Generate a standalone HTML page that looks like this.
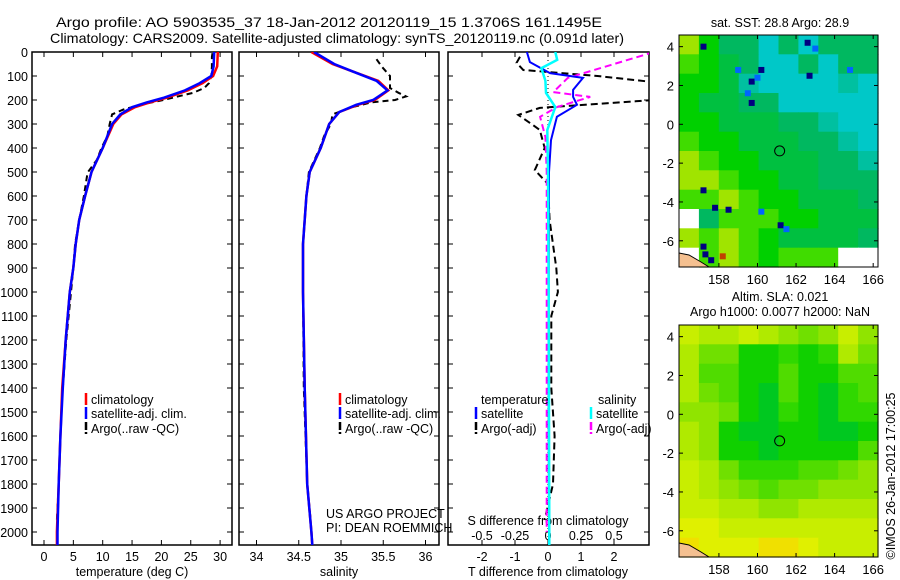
<!DOCTYPE html>
<html><head><meta charset="utf-8">
<style>
html,body{margin:0;padding:0;background:#fff;}
svg{display:block;font-family:"Liberation Sans",sans-serif;}
text{font-size:12.5px;fill:#000;}
</style></head>
<body>
<svg id="chart" width="900" height="580" viewBox="0 0 900 580">
<defs>
<clipPath id="c1"><rect x="32" y="52" width="200" height="493"/></clipPath>
<clipPath id="c2"><rect x="239" y="52" width="200" height="493"/></clipPath>
<clipPath id="c3"><rect x="448" y="52" width="201" height="493"/></clipPath>
</defs>
<text x="56" y="27" style="font-size:14px" textLength="546" lengthAdjust="spacingAndGlyphs">Argo profile: AO 5903535_37 18-Jan-2012 20120119_15 1.3706S 161.1495E</text>
<text x="50" y="43" style="font-size:14px" textLength="574" lengthAdjust="spacingAndGlyphs">Climatology: CARS2009. Satellite-adjusted climatology: synTS_20120119.nc (0.091d later)</text>
<g id="g"></g>
</svg>
<script>
// ---------- data ----------
const climDepth = [0,60,100,130,160,190,210,230,260,300,400,500,600,700,800,900,1000,1200,1400,1600,1800,2000,2055];
const climTemp  = [29.6,29.5,28.8,27,24.5,21,18,15.5,13.2,11.8,10,8.1,7,6,5.4,5,4.4,3.7,3.1,2.8,2.5,2.2,2.2];
const satTemp   = [29.0,28.9,28.5,26.5,24,20.5,17.5,15,13,11.6,10,8.1,7,6,5.4,5,4.4,3.7,3.2,2.8,2.5,2.3,2.3];
const argoDepth = [5,20,60,100,130,150,170,200,220,240,260,300,350,400,450,500,520,600,700,800,900,1000,1200,1400,1600,1800,1950];
const argoTemp  = [28.7,28.6,28.6,28.5,28.1,27.3,25.4,20.3,16.4,13.5,11.6,11.2,10.8,9.8,9,7.5,7.3,6.8,6,5.3,5,4.6,3.8,3.2,2.8,2.5,2.2];
const salDepth  = [0,50,80,120,160,200,220,250,300,400,500,600,800,1000,1400,1800,2000,2055];
const climSal   = [34.65,34.9,35.13,35.44,35.56,35.4,35.2,34.98,34.86,34.76,34.63,34.59,34.55,34.55,34.57,34.6,34.65,34.66];
const satSal    = [34.68,34.92,35.13,35.42,35.55,35.38,35.18,34.98,34.86,34.76,34.63,34.59,34.55,34.55,34.57,34.6,34.65,34.66];
const argoSalDepth = [30,60,100,150,170,185,200,210,230,260,300,350,400,500,600,800,1000,1400,1800,1950];
const argoSal   = [35.42,35.48,35.58,35.58,35.68,35.77,35.64,35.36,35.13,34.9,34.88,34.8,34.75,34.62,34.59,34.55,34.55,34.56,34.6,34.64];
const dDepthT   = [0,42,88,108,158,187,220,270,367,500,1000,1500,2000,2055];
const satTDiff  = [-0.64,-0.55,0.06,1.06,0.76,0.76,0.88,0.27,0.09,0.03,0.02,0.02,0.03,0.03];
const dDepthS   = [0,33,67,120,171,229,325,500,1000,2000,2055];
const satSDiff  = [0.055,0.07,-0.05,-0.02,-0.015,0.055,-0.005,0.0,0.005,0.01,0.01];
const argoSDepth= [0,12,108,167,187,229,270,354,500,1000,1500,2000];
const argoSDiff = [0.8,0.73,0.15,0.04,0.32,0.07,-0.06,-0.02,-0.01,-0.01,-0.01,-0.01];
const argoTDepth= [20,45,75,100,130,160,190,200,233,262,300,325,400,492,550,700,900,1000,1100,1400,1600,1800,1950];
const argoTDiff = [-0.85,-0.95,-0.75,1.5,3.5,6,6,3.2,-0.25,-0.9,-0.5,-0.25,-0.1,-0.4,0,0.05,0.25,0.3,0.1,0.1,0.2,0.15,-0.1];
const depthTicks = [0,100,200,300,400,500,600,700,800,900,1000,1100,1200,1300,1400,1500,1600,1700,1800,1900,2000];
const tempTicks = [0,5,10,15,20,25,30];
const salTicks = [34,34.5,35,35.5,36];
const tdTicks = [-2,-1,0,1,2];
const sdTicks = [-0.5,-0.25,0,0.25,0.5];
const sdLabels = ["-0.5","-0.25","0","0.25","0.5"];
const lonTicks = [158,160,162,164,166];
const latTicks = [4,2,0,-2,-4,-6];
// SST grid (deg C), rows north->south (1 deg), cols west->east; null = missing
const sstGrid = [
[28.45,28.7,28.85,28.85,29.0,28.85,29.0,28.85,28.85,28.85],
[28.55,28.7,28.8,28.9,29.05,29.0,28.9,29.0,28.9,28.85],
[28.7,28.7,28.8,28.95,29.1,29.1,29.0,29.0,28.95,29.0],
[28.7,28.75,28.8,28.85,28.9,29.0,29.0,29.0,29.0,29.05],
[28.65,28.7,28.75,28.8,28.8,28.85,28.9,28.95,29.0,29.0],
[28.6,28.65,28.7,28.75,28.8,28.8,28.85,28.9,28.95,29.0],
[28.5,28.55,28.65,28.7,28.75,28.8,28.8,28.85,28.9,28.95],
[28.45,28.45,28.55,28.65,28.7,28.75,28.8,28.85,28.85,28.9],
[28.6,28.55,28.5,28.6,28.65,28.7,28.75,28.8,28.8,28.85],
[null,28.85,28.6,28.55,28.6,28.7,28.7,28.75,28.8,28.8],
[28.45,28.6,28.5,28.55,28.7,28.75,28.75,28.75,28.8,28.85],
[null,28.6,28.5,28.6,28.65,28.6,28.55,28.55,null,null]];
const sstSpotLon = [157.2,160.2,159.7,159.0,159.7,162.6,163.0,162.7,164.8,157.2,157.8,158.5,160.2,161.2,161.5,157.2,159.5,160.0,158.2,157.3,157.6];
const sstSpotLat = [4.0,2.8,2.2,2.8,1.1,4.2,3.9,2.5,2.8,-3.4,-4.3,-4.4,-4.5,-5.2,-5.4,-6.3,1.6,2.4,-6.8,-6.7,-7.0];
const sstSpotVal = [29.5,29.5,29.5,29.3,29.5,29.5,29.3,29.5,29.3,29.5,29.5,29.5,29.3,29.5,29.3,29.5,29.3,29.3,27.9,29.5,29.5];
const slaGrid = [
[0.09,0.08,0.08,0.09,0.08,0.07,0.06,0.07,0.09,0.07],
[0.08,0.06,0.06,0.03,0.03,0.04,0.03,0.04,0.08,0.06],
[0.08,0.05,0.05,0.03,0.03,0.05,0.03,0.03,0.05,0.05],
[0.08,0.06,0.05,0.03,0.02,0.05,0.03,0.02,0.04,0.05],
[0.07,0.07,0.06,0.03,0.02,0.04,0.03,0.02,0.04,0.04],
[0.08,0.07,0.03,0.02,0.02,0.03,0.03,0.02,0.02,0.03],
[0.08,0.07,0.03,0.03,0.02,0.03,0.03,0.03,0.03,0.05],
[0.09,0.08,0.06,0.04,0.04,0.04,0.05,0.05,0.06,0.07],
[0.09,0.08,0.07,0.06,0.05,0.06,0.06,0.07,0.07,0.07],
[0.09,0.09,0.08,0.08,0.07,0.07,0.08,0.08,0.08,0.08],
[0.10,0.10,0.09,0.09,0.09,0.09,0.09,0.09,0.09,0.09],
[0.11,0.10,0.10,0.10,0.11,0.11,0.10,0.09,0.09,0.09]];
const argoLon = 161.1495, argoLat = -1.3706;

// ---------- helpers ----------
const NS="http://www.w3.org/2000/svg";
const G=document.getElementById('g');
function el(tag,attrs,parent){const e=document.createElementNS(NS,tag);for(const k in attrs)e.setAttribute(k,attrs[k]);(parent||G).appendChild(e);return e;}
function txt(x,y,s,anchor,size,parent){const t=el('text',{x:x,y:y,'text-anchor':anchor||'start'},parent);if(size)t.style.fontSize=size+'px';t.textContent=s;return t;}
const TOP=52,BOT=545;
const yD=d=>TOP+d*0.24;
function lin(d0,d1,p0,p1){return v=>p0+(v-d0)*(p1-p0)/(d1-d0);}
const xT=lin(0,30,44,220.1);
const xS=lin(34,36,256.5,425.5);
const xTD=lin(0,2,548,614);
const xSD=lin(0,0.5,548,614);

function profile(vals,depths,xf,color,width,dash,clip,name){
  let d='';vals.forEach((v,i)=>{d+=(i?'L':'M')+xf(v).toFixed(1)+','+yD(depths[i]).toFixed(1);});
  const p=el('path',{d:d,fill:'none',stroke:color,'stroke-width':width,'clip-path':'url(#'+clip+')'});
  if(dash)p.setAttribute('stroke-dasharray',dash);
  
  
}
function panel(x0,x1,name){
  const r=el('rect',{x:x0,y:TOP,width:x1-x0,height:BOT-TOP,fill:'none',stroke:'#000','stroke-width':1.5});
  
  
  depthTicks.forEach(d=>{const y=yD(d);el('line',{x1:x0,x2:x0+5,y1:y,y2:y,stroke:'#000'});el('line',{x1:x1-5,x2:x1,y1:y,y2:y,stroke:'#000'});});
}
function xticks(ticks,labels,xf,withTop){
  ticks.forEach((t,i)=>{const x=xf(t);el('line',{x1:x,x2:x,y1:BOT,y2:BOT-5,stroke:'#000'});if(withTop)el('line',{x1:x,x2:x,y1:TOP,y2:TOP+5,stroke:'#000'});
    const l=txt(x,561,labels[i],'middle');});
}

// panel 1
panel(32,232,'temperature-panel');
depthTicks.forEach(d=>{const l=txt(28,yD(d)+5,String(d),'end');});
xticks(tempTicks,tempTicks.map(String),xT,true);
txt(132,576,'temperature (deg C)','middle');
profile(argoTemp,argoDepth,xT,'#000',2,'6,4','c1','argo-temperature-line');
profile(climTemp,climDepth,xT,'#f00',2.5,null,'c1','clim-temperature-line');
profile(satTemp,climDepth,xT,'#00f',2.5,null,'c1','sat-temperature-line');

// panel 2
panel(239,439,'salinity-panel');
xticks(salTicks,['34','34.5','35','35.5','36'],xS,true);
txt(339,576,'salinity','middle');
profile(argoSal,argoSalDepth,xS,'#000',2,'6,4','c2','argo-salinity-line');
profile(climSal,salDepth,xS,'#f00',2.5,null,'c2','clim-salinity-line');
profile(satSal,salDepth,xS,'#00f',2.5,null,'c2','sat-salinity-line');

// panel 3
panel(448,649,'difference-panel');
xticks(tdTicks,tdTicks.map(String),xTD,true);
sdTicks.forEach((t,i)=>{const x=xSD(t);el('line',{x1:x,x2:x,y1:BOT,y2:BOT-4,stroke:'#000'});const l=txt(x,540,sdLabels[i],'middle');});
txt(548,525,'S difference from climatology','middle');
txt(548,576,'T difference from climatology','middle');
el('line',{x1:548,x2:548,y1:TOP,y2:BOT,stroke:'#000','stroke-dasharray':'1,3','stroke-width':1});
profile(argoTDiff,argoTDepth,xTD,'#000',2,'7,4','c3','argo-t-diff-line');
profile(argoSDiff,argoSDepth,xSD,'#f0f',2,'7,4','c3','argo-s-diff-line');
profile(satTDiff,dDepthT,xTD,'#00f',2,null,'c3','sat-t-diff-line');
profile(satSDiff,dDepthS,xSD,'#0ff',2.5,null,'c3','sat-s-diff-line');

// legends
function legItem(x,y,color,dash,label,name){
  const m=el('line',{x1:x,x2:x,y1:y-11,y2:y+1,stroke:color,'stroke-width':2.5});
  if(dash)m.setAttribute('stroke-dasharray',dash);
  const t=txt(x+5,y,label);
}
legItem(86,404,'#f00',null,'climatology','legend-climatology');
legItem(86,418,'#00f',null,'satellite-adj. clim.','legend-satellite-adj');
legItem(86,433,'#000','8,2','Argo(..raw -QC)','legend-argo');
legItem(340,404,'#f00',null,'climatology','legend-climatology-2');
legItem(340,418,'#00f',null,'satellite-adj. clim.','legend-satellite-adj-2');
legItem(340,433,'#000','8,2','Argo(..raw -QC)','legend-argo-2');
txt(481,404,'temperature');
txt(598,404,'salinity');
legItem(476,418,'#00f',null,'satellite','legend-t-satellite');
legItem(476,433,'#000','8,2','Argo(-adj)','legend-t-argo');
legItem(591,418,'#0ff',null,'satellite','legend-s-satellite');
legItem(591,433,'#f0f','8,2','Argo(-adj)','legend-s-argo');
txt(326,518,'US ARGO PROJECT');
txt(326,532,'PI: DEAN ROEMMICH');

// ---------- maps ----------
const MX0=679,MX1=878,LON0=155.93,LON1=166.25,LAT0=4.6,LAT1=-7.35;
function mapAxes(top,bot,name,grid,colorFn,spots){
  const xL=lin(LON0,LON1,MX0,MX1), yL=lin(LAT0,LAT1,top,bot);
  const g=el('g',{});
  const cw=(MX1-MX0)/grid[0].length, ch=(bot-top)/grid.length;
  grid.forEach((row,r)=>row.forEach((v,c)=>{
    const cell=el('rect',{x:(MX0+c*cw).toFixed(1),y:(top+r*ch).toFixed(1),width:(cw+0.6).toFixed(1),height:(ch+0.6).toFixed(1),fill:v===null?'#fff':colorFn(v)},g);
    
    
  }));
  if(spots){spots.lon.forEach((lo,i)=>{const s=el('rect',{x:xL(lo)-3,y:yL(spots.lat[i])-3,width:6,height:6,fill:colorFn(spots.val[i])},g);
    });}
  el('path',{d:`M${MX0},${bot-14} L${MX0+10},${bot-12} L${MX0+22},${bot-5} L${MX0+30},${bot} L${MX0},${bot} Z`,fill:'#f5c090',stroke:'#000','stroke-width':1},g);
  el('circle',{cx:xL(argoLon),cy:yL(argoLat),r:5,fill:'none',stroke:'#000','stroke-width':1},g);
  el('rect',{x:MX0,y:top,width:MX1-MX0,height:bot-top,fill:'none',stroke:'#000','stroke-width':1},g);
  lonTicks.forEach(t=>{const x=xL(t);el('line',{x1:x,x2:x,y1:top,y2:top+4,stroke:'#000'},g);el('line',{x1:x,x2:x,y1:bot,y2:bot-4,stroke:'#000'},g);
    const l=txt(x,bot+17,String(t),'middle',13,g);});
  latTicks.forEach(t=>{const y=yL(t);el('line',{x1:MX0,x2:MX0+4,y1:y,y2:y,stroke:'#000'},g);el('line',{x1:MX1-4,x2:MX1,y1:y,y2:y,stroke:'#000'},g);
    const l=txt(674,y+5,String(t),'end',13,g);});
}
function sstColor(v){
  if(v>=29.4)return '#000080';if(v>=29.25)return '#0064ff';if(v>=29.12)return '#00a8f0';
  if(v>=29.0)return '#00c8c8';if(v>=28.92)return '#00c0a0';if(v>=28.82)return '#00b860';
  if(v>=28.72)return '#00c040';if(v>=28.62)return '#00d000';if(v>=28.52)return '#40dc00';
  if(v>=28.4)return '#a0e400';if(v>=28.0)return '#e0e000';return '#c04000';
}
function slaColor(v){
  if(v<=0.025)return '#00c820';if(v<=0.035)return '#10d000';if(v<=0.045)return '#30d800';
  if(v<=0.055)return '#50dc00';if(v<=0.065)return '#70e000';if(v<=0.075)return '#90e400';
  if(v<=0.085)return '#b0ea00';if(v<=0.095)return '#c8ee00';if(v<=0.105)return '#e0f000';return '#f0e000';
}
mapAxes(35,267,'sst-map',sstGrid,sstColor,{lon:sstSpotLon,lat:sstSpotLat,val:sstSpotVal});
mapAxes(325,557,'sla-map',slaGrid,slaColor,null);
txt(780,27,'sat. SST: 28.8 Argo: 28.9','middle');
txt(780,301,'Altim. SLA: 0.021','middle');
txt(780,316,'Argo h1000: 0.0077 h2000: NaN','middle');
const cr=txt(0,0,'©IMOS 26-Jan-2012 17:00:25','middle');
cr.setAttribute('transform','translate(895,476) rotate(-90)');


</script>
</body></html>
